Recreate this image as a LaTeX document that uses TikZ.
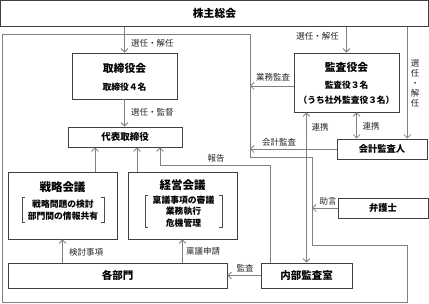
\documentclass[tikz,border=0pt]{standalone}
\usepackage{fontspec}
\setmainfont{Noto Sans CJK JP}
\usetikzlibrary{arrows.meta}

\begin{document}
\begin{tikzpicture}[x=1pt, y=-1pt,
  >={Straight Barb[length=3.5pt,width=7pt]},
  box/.style={draw=black!75, line width=0.8pt, inner sep=0pt},
  line/.style={draw=black!50, line width=0.8pt},
  arr/.style={line, ->},
  ttl/.style={font=\fontsize{10.8}{12}\selectfont\bfseries},
  sub/.style={font=\fontsize{8.8}{11.5}\selectfont\bfseries, align=center, inner sep=0pt},
  lbl/.style={font=\fontsize{8.5}{10}\selectfont, text=black!85, inner sep=1pt}]
\useasboundingbox (0,0) rectangle (429,304);

% Shareholders
\node[box, ttl, minimum width=428pt, minimum height=26pt] (kabu) at (214.5,13.5) {株主総会};

% Company outline
\coordinate (encA) at (250,34);
\coordinate (encB) at (312,157);
\draw[line] (2,34) -- (encA) -- (250,157) -- (encB) -- (312,245) -- (407,245) -- (407,302) -- (2,302) -- cycle;

% Board and representative
\node[box, minimum width=105pt, minimum height=46pt] (tori) at (124.5,76) {};
\node[ttl] (toriT) at (124.5,68) {取締役会};
\node[sub] (toriS) at (124.5,87) {取締役４名};
\node[box, font=\fontsize{9.5}{11}\selectfont\bfseries, minimum width=114pt, minimum height=20pt] (daihyo) at (125,137) {代表取締役};

% Auditors
\node[box, minimum width=105pt, minimum height=59pt] (kansa) at (346.5,82.5) {};
\node[ttl] (kansaT) at (346.5,67) {監査役会};
\node[sub, font=\fontsize{8.7}{15}\selectfont\bfseries] (kansaS) at (346.5,92.5) {監査役３名\\（うち社外監査役３名）};
\node[box, font=\fontsize{9.3}{11}\selectfont\bfseries, minimum width=90pt, minimum height=20pt] (kaikei) at (382,149) {会計監査人};
\node[box, font=\fontsize{9.3}{11}\selectfont\bfseries, minimum width=90pt, minimum height=20pt] (bengo) at (383,208) {弁護士};

% Meetings
\node[box, minimum width=109pt, minimum height=67pt] (senryaku) at (62.5,205.5) {};
\node[ttl, font=\fontsize{11.5}{13}\selectfont\bfseries] (senryakuT) at (62.5,187) {戦略会議};
\node[sub, minimum width=82pt, minimum height=24pt] (senryakuL) at (63,210) {戦略問題の検討\\部門間の情報共有};
\node[box, minimum width=109pt, minimum height=67pt] (keiei) at (182.5,205.5) {};
\node[ttl, font=\fontsize{11.5}{13}\selectfont\bfseries] (keieiT) at (182.5,185) {経営会議};
\node[sub, minimum width=77pt, minimum height=31pt] (keieiL) at (183.5,211.5) {稟議事項の審議\\業務執行\\危機管理};
\foreach \n in {senryakuL, keieiL} {
  \draw[black!70, line width=0.6pt] ([xshift=3pt]\n.north west) -- (\n.north west) -- (\n.south west) -- ([xshift=3pt]\n.south west);
  \draw[black!70, line width=0.6pt] ([xshift=-3pt]\n.north east) -- (\n.north east) -- (\n.south east) -- ([xshift=-3pt]\n.south east);
}

% Departments
\node[box, font=\fontsize{10.5}{12}\selectfont\bfseries, minimum width=219pt, minimum height=25pt] (kakubu) at (117.5,275.5) {各部門};
\node[box, font=\fontsize{10.5}{12}\selectfont\bfseries, minimum width=91pt, minimum height=25pt] (naibu) at (306.5,275.5) {内部監査室};

% Election arrows
\draw[arr] (kabu.south -| tori.north) -- (tori.north);
\node[lbl, anchor=west] (l1) at (130,43) {選任・解任};
\draw[arr] (tori.south) -- (tori.south |- daihyo.north);
\node[lbl, anchor=west] (l2) at (130,112) {選任・監督};
\draw[arr] (kabu.south -| kansa.north) -- (kansa.north);
\node[lbl] (l3) at (317.5,36) {選任・解任};
\coordinate (kaikeiX) at ([xshift=-20pt]kaikei.north east);
\draw[arr] (kabu.south -| kaikeiX) -- (kaikeiX);
\node[lbl, align=center] (l4) at (415,83) {選\\任\\・\\解\\任};

% Audit links
\coordinate (kaikeiY) at ([xshift=20pt]kaikei.north west);
\draw[line, <->] (kansa.south -| kaikeiY) -- (kaikeiY);
\node[lbl] (l5) at (371,126) {連携};
\draw[line, <->] (kansa.south -| naibu.north) -- (naibu.north);
\node[lbl] (l6) at (320,127) {連携};
\draw[arr] ([yshift=-3.5pt]kansa.west) -- ([yshift=-3.5pt]kansa.west -| encA);
\node[lbl] (l7) at (273,77) {業務監査};
\draw[arr] (kaikei.west) -- (kaikei.west -| encA);
\node[lbl] (l8) at (279,142) {会計監査};
\draw[arr] (bengo.west) -- (bengo.west -| encB);
\node[lbl] (l9) at (328,201) {助言};

% Reporting
\draw[arr] ([xshift=32.5pt]senryaku.north) -- ([xshift=32.5pt]senryaku.north |- daihyo.south);
\draw[arr] ([xshift=-45.5pt]keiei.north) -- ([xshift=-45.5pt]keiei.north |- daihyo.south);
\coordinate (hokoku) at (270,165);
\draw[arr] (naibu.north -| hokoku) -- (hokoku) -| ([xshift=35pt]daihyo.south);
\node[lbl] (l10) at (216,158) {報告};
\draw[arr] (naibu.west) -- (kakubu.east);
\node[lbl] (l11) at (245,268) {監査};
\draw[arr] (kakubu.north -| senryaku.south) -- (senryaku.south);
\node[lbl] (l12) at (86,252) {検討事項};
\draw[arr] (kakubu.north -| keiei.south) -- (keiei.south);
\node[lbl] (l13) at (203,251) {稟議申請};
\end{tikzpicture}
\end{document}
